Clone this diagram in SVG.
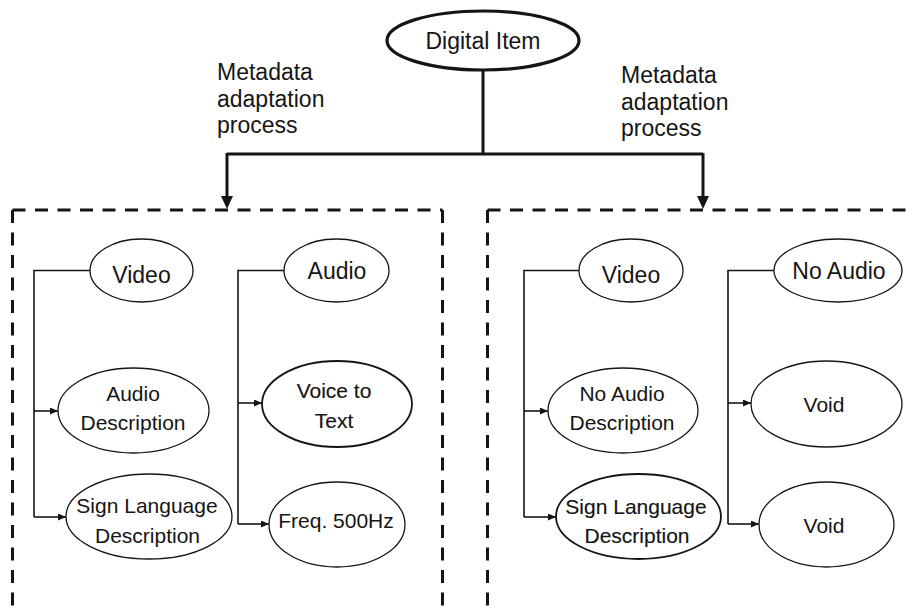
<svg xmlns="http://www.w3.org/2000/svg" width="912" height="608" viewBox="0 0 912 608">
  <defs>
    <style>
      text { font-family: "Liberation Sans", Arial, Helvetica, sans-serif; fill: #151515; text-anchor: middle; }
      .lbl { font-size: 23px; text-anchor: start; }
      .top { font-size: 23px; }
      .mid { font-size: 21px; }
      .em { stroke: #151515; stroke-width: 0.15px; }
      .node { fill: #fff; stroke: #151515; stroke-width: 1.3; }
      .node.bold { stroke-width: 1.8; }
      .root { fill: #fff; stroke: #151515; stroke-width: 3.2; }
      .trunk { fill: none; stroke: #151515; stroke-width: 3; }
      .branch { fill: none; stroke: #151515; stroke-width: 1.6; }
      .frame { fill: none; stroke: #151515; stroke-width: 3; stroke-dasharray: 13 9.5; }
    </style>
    <marker id="bigArrow" markerUnits="userSpaceOnUse" markerWidth="13" markerHeight="12" refX="0" refY="6" orient="auto">
      <path d="M0,0 L13,6 L0,12 Z" fill="#151515"/>
    </marker>
    <marker id="smallArrow" markerUnits="userSpaceOnUse" markerWidth="8" markerHeight="7" refX="8" refY="3.5" orient="auto">
      <path d="M0,0 L8,3.5 L0,7 Z" fill="#151515"/>
    </marker>
  </defs>

  <!-- dashed adaptation frames -->
  <g id="frames">
    <path class="frame" d="M12.5,210 V608 M12.5,210 H442.5 M442.5,210 V608"/>
    <path class="frame" d="M487.5,210 V608 M487.5,210 H912"/>
  </g>

  <!-- connectors -->
  <g id="connectors">
    <path class="trunk" d="M483,70 V154 M227,154 H703"/>
    <path class="trunk" d="M227,153 V196" marker-end="url(#bigArrow)"/>
    <path class="trunk" d="M703,153 V196" marker-end="url(#bigArrow)"/>

    <path class="branch" d="M90,270.5 H34 V517"/>
    <path class="branch" d="M34,411 H58" marker-end="url(#smallArrow)"/>
    <path class="branch" d="M34,517 H66" marker-end="url(#smallArrow)"/>

    <path class="branch" d="M284,270.5 H238 V524"/>
    <path class="branch" d="M238,403 H262" marker-end="url(#smallArrow)"/>
    <path class="branch" d="M238,524 H269" marker-end="url(#smallArrow)"/>

    <path class="branch" d="M579,270.5 H524 V517"/>
    <path class="branch" d="M524,411 H548" marker-end="url(#smallArrow)"/>
    <path class="branch" d="M524,517 H556" marker-end="url(#smallArrow)"/>

    <path class="branch" d="M774,270.5 H728 V524"/>
    <path class="branch" d="M728,403 H751" marker-end="url(#smallArrow)"/>
    <path class="branch" d="M728,524 H759" marker-end="url(#smallArrow)"/>
  </g>

  <!-- process labels -->
  <g id="label-left">
    <text class="lbl" x="217" y="80">Metadata</text>
    <text class="lbl" x="217" y="106.5">adaptation</text>
    <text class="lbl" x="217" y="133">process</text>
  </g>
  <g id="label-right">
    <text class="lbl" x="621" y="83">Metadata</text>
    <text class="lbl" x="621" y="109.5">adaptation</text>
    <text class="lbl" x="621" y="136">process</text>
  </g>

  <!-- root -->
  <g id="digital-item">
    <ellipse class="root" cx="483" cy="40.5" rx="96" ry="29.5"/>
    <text class="top" x="483" y="48.5">Digital Item</text>
  </g>

  <!-- left frame -->
  <g id="video-left">
    <ellipse class="node" cx="141.5" cy="270.5" rx="51.5" ry="31.5"/>
    <text class="top" x="141.5" y="283">Video</text>
  </g>
  <g id="audio-description">
    <ellipse class="node" cx="133.5" cy="410.5" rx="75.5" ry="42.5"/>
    <text class="mid" x="133" y="401">Audio</text>
    <text class="mid" x="133" y="430">Description</text>
  </g>
  <g id="sign-language-left">
    <ellipse class="node" cx="149" cy="516.5" rx="83" ry="42.5"/>
    <text class="mid" x="147" y="513">Sign Language</text>
    <text class="mid" x="147.5" y="543">Description</text>
  </g>
  <g id="audio">
    <ellipse class="node" cx="336.5" cy="270.5" rx="52.5" ry="31.5"/>
    <text class="top" x="337" y="279">Audio</text>
  </g>
  <g id="voice-to-text">
    <ellipse class="node bold" cx="337" cy="404" rx="75" ry="43"/>
    <text class="mid em" x="334" y="398">Voice to</text>
    <text class="mid em" x="334" y="428">Text</text>
  </g>
  <g id="freq-500hz">
    <ellipse class="node" cx="337" cy="524.5" rx="68" ry="42.5"/>
    <text class="mid" x="336" y="528">Freq. 500Hz</text>
  </g>

  <!-- right frame -->
  <g id="video-right">
    <ellipse class="node" cx="631" cy="270.5" rx="52" ry="31.5"/>
    <text class="top" x="631" y="283">Video</text>
  </g>
  <g id="no-audio-description">
    <ellipse class="node" cx="623" cy="410.5" rx="75" ry="42.5"/>
    <text class="mid" x="622" y="401">No Audio</text>
    <text class="mid" x="622" y="430">Description</text>
  </g>
  <g id="sign-language-right">
    <ellipse class="node bold" cx="638.5" cy="516.5" rx="82.5" ry="42.5"/>
    <text class="mid em" x="636" y="514">Sign Language</text>
    <text class="mid em" x="637" y="543">Description</text>
  </g>
  <g id="no-audio">
    <ellipse class="node" cx="838" cy="270.5" rx="64" ry="31.5"/>
    <text class="top" x="839" y="279">No Audio</text>
  </g>
  <g id="void-1">
    <ellipse class="node" cx="826.5" cy="404" rx="75.5" ry="43"/>
    <text class="mid" x="824" y="412">Void</text>
  </g>
  <g id="void-2">
    <ellipse class="node" cx="826.5" cy="524.5" rx="67.5" ry="42.5"/>
    <text class="mid" x="824" y="533">Void</text>
  </g>
</svg>
